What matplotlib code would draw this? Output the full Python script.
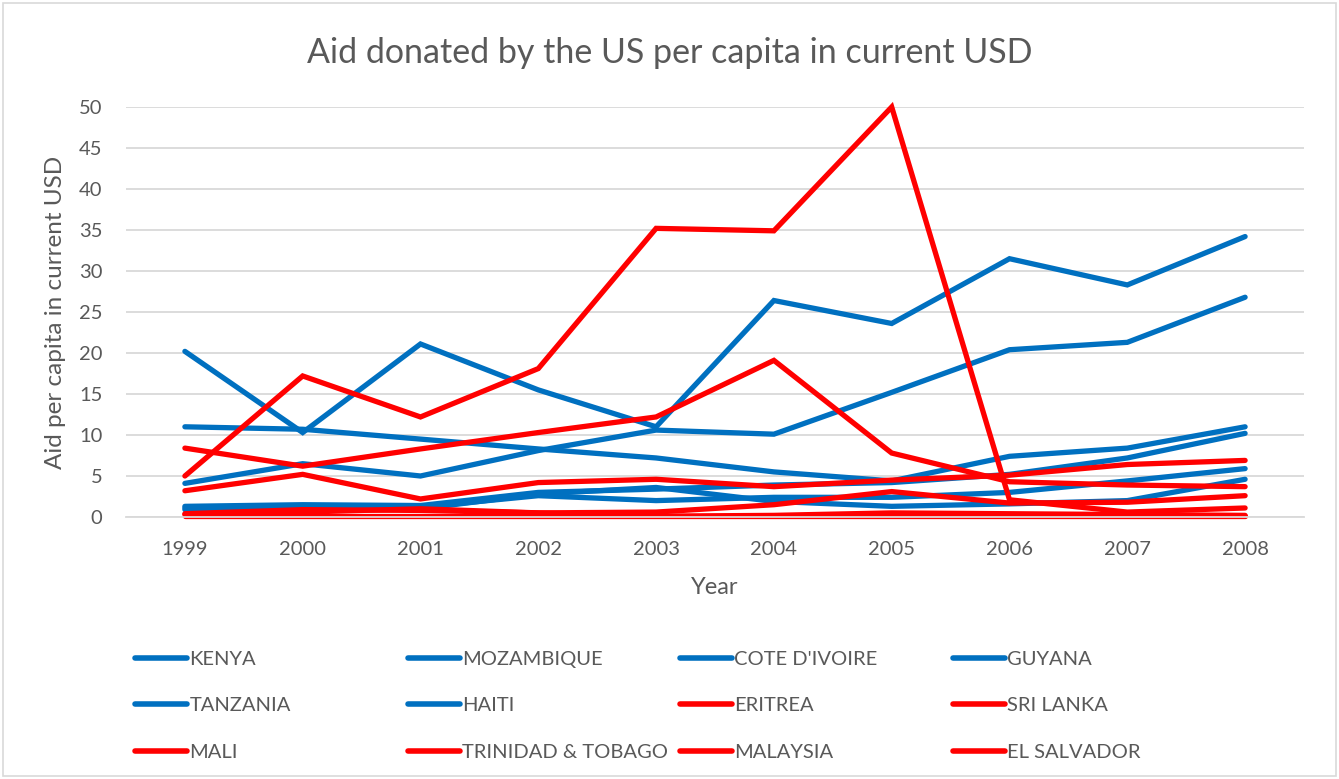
import matplotlib
matplotlib.use("Agg")
import matplotlib.pyplot as plt
from matplotlib.lines import Line2D
from matplotlib.patches import Rectangle

plt.rcParams['font.family'] = ['Lato', 'DejaVu Sans']

years = ['1999', '2000', '2001', '2002', '2003', '2004', '2005', '2006', '2007', '2008']

# aid per capita, current USD
kenya = [11.0, 10.7, 9.5, 8.3, 7.2, 5.5, 4.4, 7.4, 8.4, 11.0]
mozambique = [1.3, 1.5, 1.4, 3.0, 3.4, 3.9, 4.2, 5.2, 7.2, 10.2]
cote_divoire = [0.9, 1.2, 1.0, 2.8, 3.6, 1.9, 1.3, 1.6, 2.0, 4.6]
guyana = [20.2, 10.3, 21.1, 15.5, 11.0, 26.4, 23.6, 31.5, 28.3, 34.2]
tanzania = [1.1, 1.3, 1.2, 2.6, 2.0, 2.4, 2.4, 3.0, 4.4, 5.9]
haiti = [4.1, 6.5, 5.0, 8.1, 10.6, 10.1, 15.2, 20.4, 21.3, 26.8]
eritrea = [5.0, 17.2, 12.2, 18.1, 35.2, 34.9, 50.0, 2.1, 0.6, 1.1]
sri_lanka = [8.4, 6.2, 8.3, 10.3, 12.2, 19.1, 7.8, 4.3, 3.9, 3.7]
mali = [3.2, 5.2, 2.2, 4.2, 4.6, 3.7, 4.5, 5.1, 6.4, 6.9]
trinidad = [0.1, 0.1, 0.1, 0.1, 0.1, 0.1, 0.1, 0.1, 0.1, 0.1]
malaysia = [0.3, 0.6, 1.0, 0.5, 0.1, 0.2, 0.5, 0.4, 0.3, 0.2]
el_salvador = [0.4, 0.9, 0.8, 0.5, 0.6, 1.5, 3.1, 1.7, 1.8, 2.6]

names = ['KENYA', 'MOZAMBIQUE', "COTE D'IVOIRE", 'GUYANA', 'TANZANIA', 'HAITI',
         'ERITREA', 'SRI LANKA', 'MALI', 'TRINIDAD & TOBAGO', 'MALAYSIA', 'EL SALVADOR']
values = [kenya, mozambique, cote_divoire, guyana, tanzania, haiti,
          eritrea, sri_lanka, mali, trinidad, malaysia, el_salvador]
colors = ['#0070C0'] * 6 + ['#FF0000'] * 6

txt = '#595959'
fig = plt.figure(figsize=(13.39, 7.79), dpi=100)
ax = fig.add_axes([126 / 1339, 1 - 517 / 779, 1178 / 1339, 410 / 779])

x = list(range(len(years)))
for name, v, c in zip(names, values, colors):
    ax.plot(x, v, color=c, lw=3.8, solid_capstyle='round', solid_joinstyle='miter',
            clip_on=False, label=name)

ax.set_xlim(-0.5, 9.5)
ax.set_ylim(0, 50)
ax.set_yticks(range(0, 51, 5))
ax.set_xticks(x)
ax.set_xticklabels(years)
ax.tick_params(length=0, labelsize=14.5, colors=txt)
ax.tick_params(axis='y', pad=17)
ax.tick_params(axis='x', pad=17)
ax.grid(axis='y', color='#D9D9D9', lw=1.3)
ax.set_axisbelow(True)
for s in ax.spines.values():
    s.set_visible(False)
ax.spines['bottom'].set_visible(True)
ax.spines['bottom'].set_color('#D9D9D9')
ax.spines['bottom'].set_linewidth(1.3)

ax.set_xlabel('Year', fontsize=17, color=txt, labelpad=14)
ax.set_ylabel('Aid per capita in current USD', fontsize=17.5, color=txt, labelpad=9)
fig.text(0.5, 1 - 53 / 779, 'Aid donated by the US per capita in current USD',
         ha='center', va='center', fontsize=24.5, color=txt)

# legend laid out as four equal-width columns
handles = [Line2D([], [], color=c, lw=4.0, solid_capstyle='round') for c in colors]
col_x = [132, 405, 677, 950]
for col in range(4):
    idx = [col, col + 4, col + 8]
    leg = fig.legend([handles[i] for i in idx], [names[i] for i in idx],
                     loc='upper left', bbox_to_anchor=(col_x[col] / 1339 - 0.004, 1 - 643 / 779),
                     frameon=False, fontsize=14.5, handlelength=2.6, handletextpad=0.12,
                     labelspacing=1.45, borderaxespad=0)
    for t in leg.get_texts():
        t.set_color(txt)

fig.patches.append(Rectangle((3 / 1339, 3 / 779), 1333 / 1339, 773 / 779,
                             transform=fig.transFigure, fill=False,
                             edgecolor='#D9D9D9', lw=1.2))

fig.savefig('out.png', dpi=100)
